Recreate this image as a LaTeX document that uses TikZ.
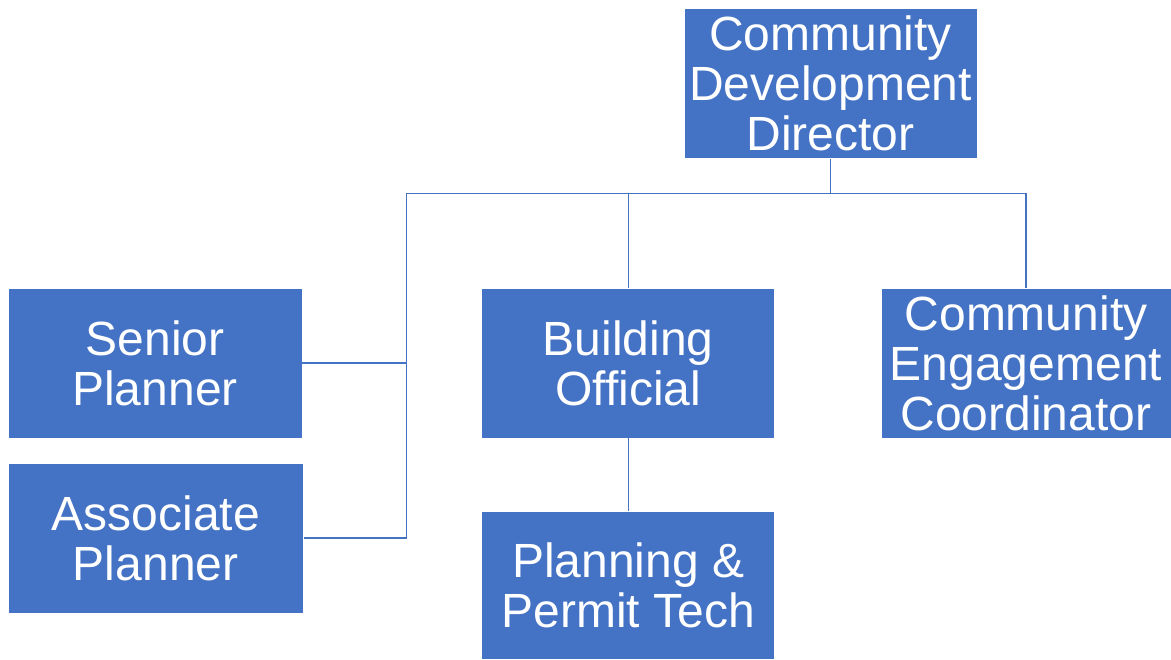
\documentclass[tikz,border=0pt]{standalone}
\usepackage{fontspec}
\setmainfont{Liberation Sans}
\definecolor{orgblue}{HTML}{4472C4}

\begin{document}
\begin{tikzpicture}[
            x=0.5pt, y=-0.5pt,
            post/.style={rectangle, draw=white, line width=0.4pt, fill=orgblue, text=white, inner sep=0pt,
                minimum width=146.5pt, minimum height=75pt, align=center,
                font=\fontsize{24}{25}\selectfont},
            link/.style={draw=orgblue, line width=0.6pt}
        ]
            \useasboundingbox (0,0) rectangle (1171,659);

            \node[post] (dir) at (830.5,83.3) {Community\\Development\\Director};
            \node[post, minimum width=147pt] (sp) at (155,363) {Senior\\Planner};
            \node[post, minimum width=147.5pt] (ap) at (155.7,538) {Associate\\Planner};
            \node[post] (bo) at (628.3,363) {Building\\Official};
            \node[post, minimum width=145pt] (cec) at (1026,363) {Community\\Engagement\\Coordinator};
            \node[post, minimum height=74pt] (pt) at (628.3,585) {Planning \&\\Permit Tech};

            \coordinate (hub) at (830.5,193.3);
            \coordinate (spine) at (406.7,193.3);

            \draw[link] (dir.south) -- (hub);
            \draw[link] (hub) -| (cec.north);
            \draw[link] (hub) -| (bo.north);
            \draw[link] (hub) -- (spine) |- (ap.east);
            \draw[link] (spine) |- (sp.east);
            \draw[link] (bo) -- (pt);

        \end{tikzpicture}
\end{document}
